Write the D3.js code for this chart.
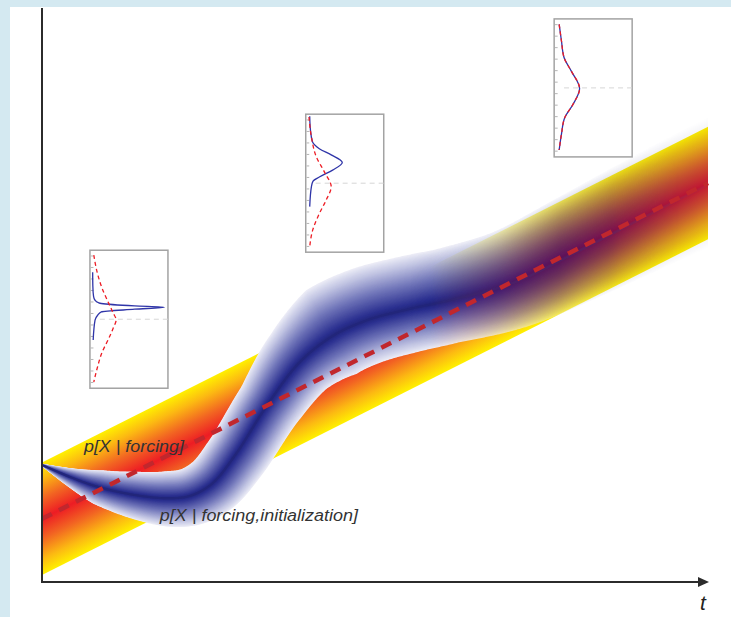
<!DOCTYPE html>
<html><head><meta charset="utf-8">
<script src="https://cdn.jsdelivr.net/npm/d3@7"></script>
<style>html,body{margin:0;padding:0;background:#d4e9f1;} svg{display:block;}</style>
</head><body>
<svg id="chart" width="731" height="617"></svg>
<script>
// ---------------- DATA ----------------
const timeDomain = [0, 10];
const stateDomain = [0, 10];
// forcing-driven distribution (straight band)
const forcingT = [0, 10];
const forcingMean = [1.10, 6.95];
const forcingSpread = [0.98, 0.98];
// initialized forecast distribution
const initT    = [0, 0.42, 0.83, 1.32, 1.85, 2.22, 2.55, 2.90, 3.38, 3.87, 4.37, 4.88, 5.53, 6.13, 7.07, 8.08, 8.98, 10];
const initMean = [2.04, 1.83, 1.66, 1.53, 1.46, 1.50, 1.71, 2.21, 3.08, 3.83, 4.29, 4.56, 4.76, 4.91, 5.21, 5.78, 6.32, 6.92];
const spreadT     = [0, 0.42, 0.83, 1.32, 1.85, 2.37, 2.90, 3.38, 3.87, 4.37, 5.05, 6.13, 7.07, 8.08, 8.98, 10];
const spreadUpper = [0.02, 0.16, 0.30, 0.40, 0.47, 0.50, 0.52, 0.55, 0.70, 0.92, 0.93, 0.92, 0.95, 0.99, 1.02, 1.05];
const spreadLower = [0.02, 0.16, 0.30, 0.40, 0.49, 0.54, 0.58, 0.60, 0.66, 0.78, 0.77, 0.75, 0.80, 0.88, 0.94, 1.00];
// labels
const labelTexts = ["p[X | forcing]", "p[X | forcing,initialization]"];
const labelT = [0.63, 1.77];
const labelX = [2.26, 1.06];
const axisLabel = "t";
// inset panels: anchor (left time, top state)
const insetLeftT = [0.72, 3.96, 7.69];
const insetTopX  = [5.78, 8.15, 9.81];
// inset curves: [anomaly v (-1..1), density d (0..1)]
const earlyInit = [[0.68,0.003],[0.49,0.005],[0.33,0.015],[0.275,0.035],[0.24,0.08],[0.228,0.12],[0.193,0.57],[0.174,0.97],[0.145,0.57],[0.106,0.12],[0.058,0.07],[-0.014,0.035],[-0.30,0.01]];
const earlyForcing = [[0.93,0.018],[0.68,0.064],[0.45,0.13],[0.23,0.22],[0.09,0.28],[-0.01,0.32],[-0.13,0.28],[-0.28,0.22],[-0.48,0.13],[-0.71,0.064],[-0.91,0.018]];
const midInit = [[0.97,0.02],[0.77,0.03],[0.60,0.057],[0.50,0.15],[0.41,0.31],[0.30,0.46],[0.19,0.33],[0.09,0.15],[0.03,0.065],[-0.05,0.043],[-0.34,0.02]];
const midForcing = [[0.96,0.01],[0.67,0.043],[0.38,0.11],[0.16,0.22],[-0.05,0.31],[-0.25,0.24],[-0.44,0.15],[-0.68,0.06],[-0.92,0.02]];
const lateInit = [[0.92,0.034],[0.68,0.065],[0.44,0.10],[0.24,0.20],[-0.01,0.31],[-0.24,0.22],[-0.43,0.11],[-0.67,0.065],[-0.90,0.034]];
const lateForcing = [[0.92,0.034],[0.68,0.065],[0.44,0.10],[0.24,0.20],[-0.01,0.31],[-0.24,0.22],[-0.43,0.11],[-0.67,0.065],[-0.90,0.034]];
const insetInit = [earlyInit, midInit, lateInit];
const insetForcing = [earlyForcing, midForcing, lateForcing];

// ---------------- LAYOUT ----------------
const W = 731, H = 617;
const svg = d3.select("#chart");
const defs = svg.append("defs");
const x = d3.scaleLinear().domain(timeDomain).range([42, 708]);
const y = d3.scaleLinear().domain(stateDomain).range([582, 8]);
const pxPerUnit = Math.abs(y(1) - y(0));

svg.append("rect").attr("width", W).attr("height", H).attr("fill", "#d4e9f1");
svg.append("rect").attr("x", 10).attr("y", 7).attr("width", W - 10).attr("height", H - 7).attr("fill", "#ffffff");

// ---------------- FORCING BAND ----------------
const p0 = [x(forcingT[0]), y(forcingMean[0])], p1 = [x(forcingT[1]), y(forcingMean[1])];
const ddx = p1[0] - p0[0], ddy = p1[1] - p0[1], dlen = Math.hypot(ddx, ddy);
let nx = -ddy / dlen, ny = ddx / dlen; if (ny < 0) { nx = -nx; ny = -ny; }
const vHalf = forcingSpread[0] * pxPerUnit;
const pHalf = vHalf * Math.abs(ddx) / dlen;
const cMid = [(p0[0] + p1[0]) / 2, (p0[1] + p1[1]) / 2];
const fg = defs.append("linearGradient").attr("id", "forcingGrad").attr("gradientUnits", "userSpaceOnUse")
  .attr("x1", cMid[0] - nx * pHalf).attr("y1", cMid[1] - ny * pHalf)
  .attr("x2", cMid[0] + nx * pHalf).attr("y2", cMid[1] + ny * pHalf);
[[0, "#fff000"], [0.14, "#fcb912"], [0.32, "#f26522"], [0.5, "#ed1c24"], [0.68, "#f26522"], [0.86, "#fcb912"], [1, "#fff000"]]
  .forEach(s => fg.append("stop").attr("offset", s[0]).attr("stop-color", s[1]));
const forcingPoly = [
  [x(forcingT[0]), y(forcingMean[0] + forcingSpread[0])],
  [x(forcingT[1]), y(forcingMean[1] + forcingSpread[1])],
  [x(forcingT[1]), y(forcingMean[1] - forcingSpread[1])],
  [x(forcingT[0]), y(forcingMean[0] - forcingSpread[0])]
];
svg.append("path").attr("d", "M" + forcingPoly.join("L") + "Z").attr("fill", "url(#forcingGrad)");

// ---------------- INITIALIZED BAND ----------------
defs.append("clipPath").attr("id", "plotClip").append("rect")
  .attr("x", x(0)).attr("y", 0).attr("width", x(10) - x(0)).attr("height", H);
function makeMask(id, stops) {
  const gr = defs.append("linearGradient").attr("id", id + "Grad").attr("gradientUnits", "userSpaceOnUse")
    .attr("x1", x(0)).attr("x2", x(10)).attr("y1", 0).attr("y2", 0);
  stops.forEach(s => gr.append("stop").attr("offset", (s[0] - x(0)) / (x(10) - x(0)))
    .attr("stop-color", "#fff").attr("stop-opacity", s[1]));
  const m = defs.append("mask").attr("id", id).attr("maskUnits", "userSpaceOnUse")
    .attr("x", 0).attr("y", 0).attr("width", W).attr("height", H);
  m.append("rect").attr("width", W).attr("height", H).attr("fill", `url(#${id}Grad)`);
}
// opaque (white-edged) version on the left, transparent-edged version on the right
makeMask("maskA", [[42, 1], [430, 1], [500, 0.7], [560, 0.35], [620, 0.08], [680, 0], [708, 0]]);
makeMask("maskB", [[42, 0], [410, 0], [490, 0.45], [560, 0.8], [610, 0.75], [660, 0.5], [708, 0.3]]);

const centerLine = d3.line().x(i => x(initT[i])).y(i => y(initMean[i])).curve(d3.curveCatmullRom.alpha(0.5));
const tmp = svg.append("path").attr("d", centerLine(d3.range(initT.length))).attr("fill", "none");
const L = tmp.node().getTotalLength();
const N = 600;
const pts = d3.range(N + 1).map(i => { const p = tmp.node().getPointAtLength(L * i / N); return [p.x, p.y]; });
tmp.remove();
{
  const pe = pts[N], pe2 = pts[N - 6];
  const ex = pe[0] - pe2[0], ey = pe[1] - pe2[1], el = Math.hypot(ex, ey);
  for (let k = 1; k <= 12; k++) pts.push([pe[0] + ex / el * 6 * k, pe[1] + ey / el * 6 * k]);
}
const upScale = d3.scaleLinear().domain(spreadT).range(spreadUpper).clamp(true);
const loScale = d3.scaleLinear().domain(spreadT).range(spreadLower).clamp(true);
const win = 12;
const samples = pts.map((p, i) => {
  const a = pts[Math.max(0, i - win)], b = pts[Math.min(pts.length - 1, i + win)];
  const tx = b[0] - a[0], ty = b[1] - a[1], tl = Math.hypot(tx, ty);
  const tt = x.invert(p[0]);
  return { p, nx: -ty / tl, ny: tx / tl, lo: loScale(tt) * pxPerUnit, up: upScale(tt) * pxPerUnit };
});
function layerPath(f) {
  const lo = samples.map(s => [s.p[0] + s.nx * s.lo * f, s.p[1] + s.ny * s.lo * f]);
  const up = samples.map(s => [s.p[0] - s.nx * s.up * f, s.p[1] - s.ny * s.up * f]).reverse();
  return "M" + lo.concat(up).map(p => p[0].toFixed(2) + "," + p[1].toFixed(2)).join("L") + "Z";
}
const bandColor = d3.scaleLinear().domain([0, 0.1, 0.45, 0.8, 0.95, 1])
  .range(["#22267a", "#2b3090", "#7075b9", "#c0c3e2", "#e0e1f1", "#ececf6"]).interpolate(d3.interpolateRgb);
const clipG = svg.append("g").attr("clip-path", "url(#plotClip)");
const gA = clipG.append("g").attr("mask", "url(#maskA)");
const gB = clipG.append("g").attr("mask", "url(#maskB)");
const K = 70;
for (let k = K; k >= 1; k--) {
  const f = k / K;
  const d = layerPath(f);
  gA.append("path").attr("d", d).attr("fill", bandColor(f));
  gB.append("path").attr("d", d).attr("fill", "#302c80").attr("fill-opacity", 0.016);
}
gA.append("path").attr("d", d3.line()(pts)).attr("fill", "none").attr("stroke", "#22267a").attr("stroke-width", 2);
gB.append("path").attr("d", d3.line()(pts)).attr("fill", "none").attr("stroke", "#2e2a80").attr("stroke-width", 2.5).attr("stroke-opacity", 0.45);

// ---------------- FORCING MEAN (dashed) ----------------
svg.append("line")
  .attr("x1", x(forcingT[0])).attr("y1", y(forcingMean[0]))
  .attr("x2", x(forcingT[1])).attr("y2", y(forcingMean[1]))
  .attr("stroke", "#c1272d").attr("stroke-width", 4.5).attr("stroke-dasharray", "11,8");

// ---------------- AXES ----------------
const axisColor = "#2b2b2b";
svg.append("line").attr("x1", x(0)).attr("y1", y(0)).attr("x2", x(0)).attr("y2", y(10))
  .attr("stroke", axisColor).attr("stroke-width", 2);
svg.append("line").attr("x1", x(0) - 1).attr("y1", y(0)).attr("x2", x(10) - 8).attr("y2", y(0))
  .attr("stroke", axisColor).attr("stroke-width", 2);
svg.append("path").attr("d", `M${x(10) - 10},${y(0) - 5}L${x(10) + 1},${y(0)}L${x(10) - 10},${y(0) + 5}Z`).attr("fill", axisColor);
svg.append("text").attr("x", x(9.88)).attr("y", y(-0.49)).text(axisLabel)
  .attr("font-family", "Liberation Sans, Arial, sans-serif").attr("font-style", "italic")
  .attr("font-size", 21).attr("fill", "#231f20");

// ---------------- LABELS ----------------
const labelLen = [100, 198];
labelTexts.forEach((t, i) => {
  svg.append("text").attr("x", x(labelT[i])).attr("y", y(labelX[i])).text(t)
    .attr("font-family", "Liberation Sans, Arial, sans-serif").attr("font-style", "italic")
    .attr("font-size", 16).attr("fill", "#333")
    .attr("textLength", labelLen[i]).attr("lengthAdjust", "spacingAndGlyphs");
});

// ---------------- INSETS ----------------
const boxW = 78, boxH = 138;
insetLeftT.forEach((lt, i) => {
  const left = x(lt), top = y(insetTopX[i]);
  const g = svg.append("g");
  g.append("rect").attr("x", left).attr("y", top).attr("width", boxW).attr("height", boxH)
    .attr("fill", "#fff").attr("stroke", "#a3a3a3").attr("stroke-width", 1.5);
  const iy = d3.scaleLinear().domain([-1, 1]).range([top + boxH, top]);
  const ix = d3.scaleLinear().domain([0, 1]).range([left + 2.5, left + 2.5 + 74]);
  d3.range(-6, 6).map(k => (k + 0.5) / 6).forEach(v => {
    g.append("line").attr("x1", left + 0.75).attr("x2", left + 3.5).attr("y1", iy(v)).attr("y2", iy(v))
      .attr("stroke", "#b5b5b5").attr("stroke-width", 1);
  });
  g.append("line").attr("x1", ix(0.1)).attr("x2", left + boxW).attr("y1", iy(0)).attr("y2", iy(0))
    .attr("stroke", "#d6d6d6").attr("stroke-width", 1).attr("stroke-dasharray", "5,4");
  const ln = d3.line().x(d => ix(d[1])).y(d => iy(d[0])).curve(d3.curveMonotoneY);
  g.append("path").attr("d", ln(insetInit[i])).attr("fill", "none").attr("stroke", "#2f35a8").attr("stroke-width", 1.3);
  g.append("path").attr("d", ln(insetForcing[i])).attr("fill", "none").attr("stroke", "#ed1c24")
    .attr("stroke-width", 1.3).attr("stroke-dasharray", "4,3");
});
</script>
</body></html>
